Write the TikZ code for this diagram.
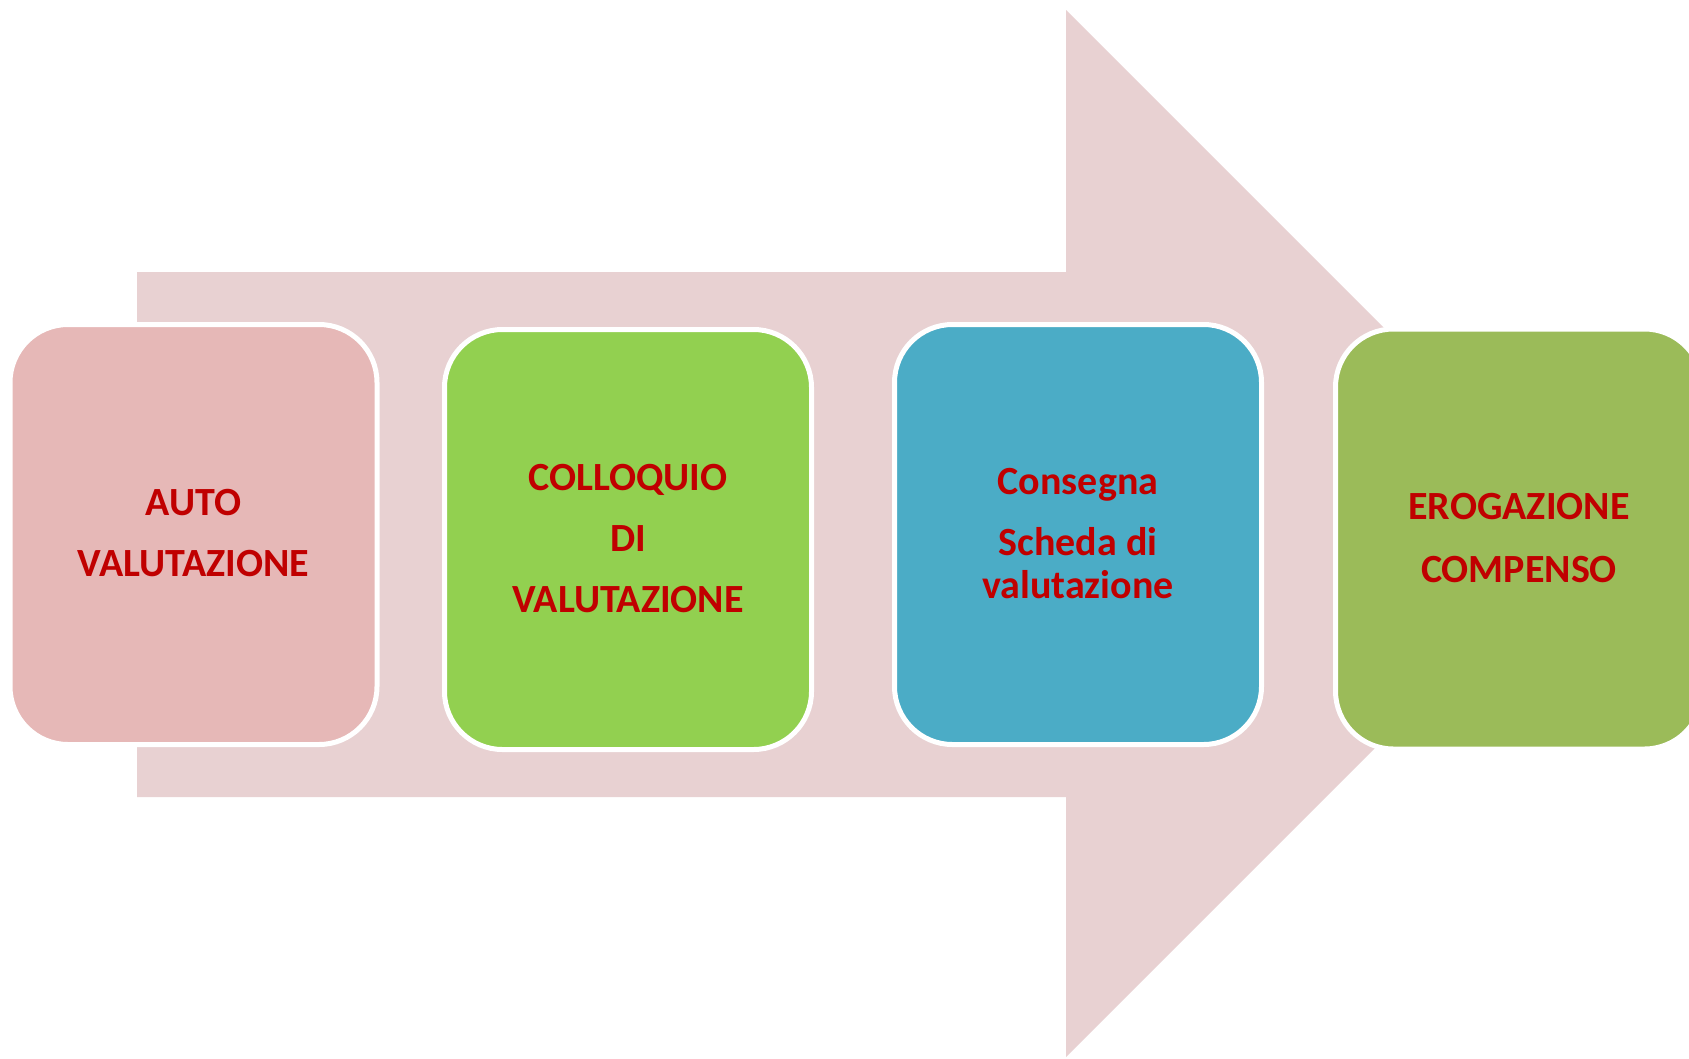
\documentclass[tikz,border=0pt]{standalone}
\usepackage{fontspec}
\setmainfont{Carlito}
\definecolor{arrowfill}{HTML}{E8D1D2}
\definecolor{boxa}{HTML}{E6B8B7}
\definecolor{boxb}{HTML}{92D050}
\definecolor{boxc}{HTML}{4BACC6}
\definecolor{boxd}{HTML}{9BBB59}
\definecolor{txtred}{HTML}{C00000}
\tikzset{
  stepbox/.style={rectangle, rounded corners=58pt, draw=white, line width=5pt,
    minimum width=367pt, minimum height=420pt, inner sep=0pt},
  steptext/.style={anchor=base, text=txtred, inner sep=0pt,
    font=\fontsize{40}{48}\selectfont\bfseries}
}
\begin{document}
\begin{tikzpicture}[x=1pt,y=-1pt]
\clip (0,0) rectangle (1689,1058);
\fill[white] (0,0) rectangle (1689,1058);
% big arrow
\fill[arrowfill] (137,272) -- (1066,272) -- (1066,10) -- (1589.5,533.5)
  -- (1066,1057) -- (1066,797) -- (137,797) -- cycle;
% boxes
\node[stepbox, fill=boxa] (b1) at (193.5,534.5) {};
\node[stepbox, fill=boxb] (b2) at (628,539.5) {};
\node[stepbox, fill=boxc] (b3) at (1078,534.5) {};
\node[stepbox, fill=boxd] (b4) at (1519,539) {};
% texts
\node[steptext] (t1a) at (193.5,515) {AUTO};
\node[steptext] (t1b) at (193.5,576) {VALUTAZIONE};
\node[steptext] (t2a) at (628,490) {COLLOQUIO};
\node[steptext] (t2b) at (628,551) {DI};
\node[steptext] (t2c) at (628,612) {VALUTAZIONE};
\node[steptext] (t3a) at (1078,494) {Consegna};
\node[steptext] (t3b) at (1078,555) {Scheda di};
\node[steptext] (t3c) at (1078,598) {valutazione};
\node[steptext] (t4a) at (1519,519) {EROGAZIONE};
\node[steptext] (t4b) at (1519,582) {COMPENSO};
\end{tikzpicture}
\end{document}
